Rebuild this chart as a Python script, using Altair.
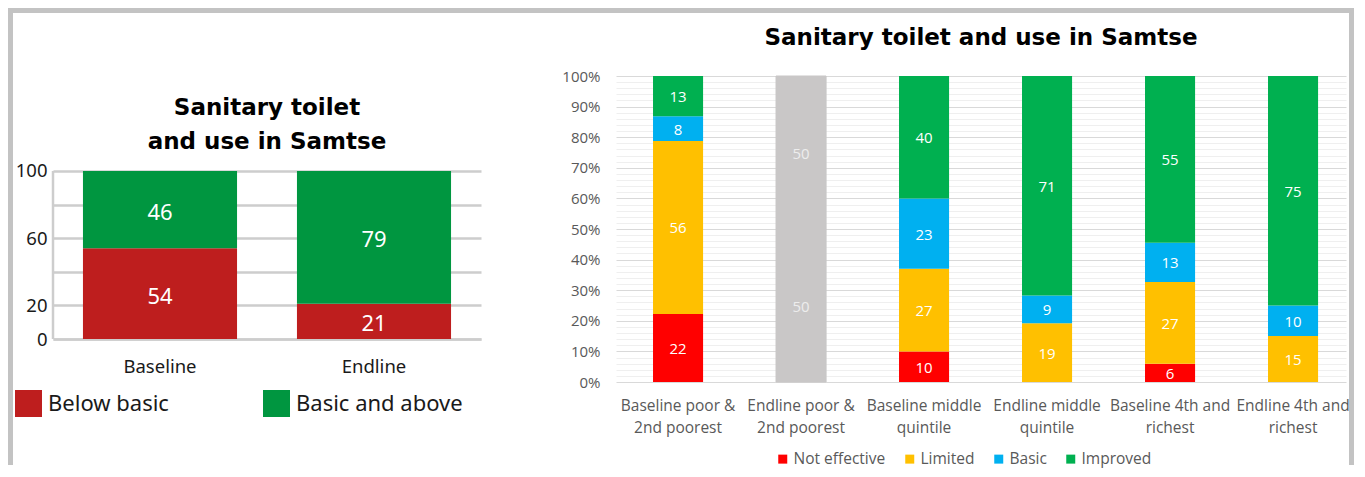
import altair as alt
import pandas as pd

# ---------------- Left panel data ----------------
periods = ["Baseline", "Endline"]
left_series = ["Below basic", "Basic and above"]
below_basic = [54, 21]
basic_above = [46, 79]
left_colors = ["#BE1E1E", "#009640"]
left_grid_values = [0, 20, 40, 60, 80, 100]
left_label_values = [0, 20, 60, 100]

# ---------------- Right panel data ----------------
cat_line1 = ["Baseline poor &", "Endline poor &", "Baseline middle",
             "Endline middle", "Baseline 4th and", "Endline 4th and"]
cat_line2 = ["2nd poorest", "2nd poorest", "quintile", "quintile", "richest", "richest"]
categories = [a + " " + b for a, b in zip(cat_line1, cat_line2)]
right_series = ["Not effective", "Limited", "Basic", "Improved"]
not_effective = [22, None, 10, None, 6, None]
limited = [56, None, 27, 19, 27, 15]
basic = [8, None, 23, 9, 13, 10]
improved = [13, None, 40, 71, 55, 75]
grey_category = "Endline poor & 2nd poorest"
grey_segments = [50, 50]
grey_series = "No data"
right_colors = ["#FF0000", "#FFC000", "#00B0F0", "#00B050", "#C9C7C7"]
right_tick_values = [i / 10 for i in range(11)]
right_minor_values = [i / 50 for i in range(51) if i % 5 != 0]

F1 = "Noto Sans"
FT = "DejaVu Sans"
F2 = "Open Sans"
GRID = "#CDCDCD"
FRAME = "#C3C3C3"

# ---------------- Build tables ----------------
left_rows = []
for i, p in enumerate(periods):
    for k, (s, vals) in enumerate(zip(left_series, [below_basic, basic_above])):
        left_rows.append({"period": p, "series": s, "value": vals[i], "order": k})
left_df = pd.DataFrame(left_rows)

right_rows = []
for i, c in enumerate(categories):
    for k, (s, vals) in enumerate(zip(right_series, [not_effective, limited, basic, improved])):
        if vals[i] is not None:
            right_rows.append({"category": c, "series": s, "value": vals[i], "order": k})
for k, v in enumerate(grey_segments):
    right_rows.append({"category": grey_category, "series": grey_series, "value": v, "order": k})
right_df = pd.DataFrame(right_rows)

# ---------------- Left chart ----------------
LW, LH = 428, 263
left_base = alt.Chart(left_df).transform_stack(
    stack="value", groupby=["period"], as_=["y0", "y1"],
    sort=[alt.SortField("order", order="ascending")]
).transform_calculate(mid="(datum.y0 + datum.y1) / 2")

lx = alt.X("period:N", sort=periods, title=None,
           scale=alt.Scale(paddingInner=0.28, paddingOuter=0.14),
           axis=alt.Axis(labelAngle=0, labelFont=F1, labelFontSize=18.5, labelColor="#1A1A1A",
                         labelPadding=18, ticks=False, domain=True, domainColor=GRID,
                         domainWidth=2.5, grid=False, labelBaseline="top"))
lscale = alt.Scale(domain=[0, 156.5], nice=False)

left_bars = left_base.mark_bar().encode(
    x=lx,
    y=alt.Y("y0:Q", scale=lscale, title=None,
            axis=alt.Axis(values=left_grid_values, grid=True, gridColor=GRID, gridWidth=2.5,
                          ticks=False, domain=False, labelFont=F1, labelFontSize=18.5,
                          labelColor="#1A1A1A", labelPadding=6,
                          labelExpr="datum.value == 40 || datum.value == 80 ? '' : datum.label")),
    y2="y1:Q",
    color=alt.Color("series:N", scale=alt.Scale(domain=left_series, range=left_colors),
                    legend=alt.Legend(title=None, orient="none", legendX=-38, legendY=314,
                                      direction="horizontal", columns=2, columnPadding=94,
                                      symbolType="square", symbolSize=729, symbolStrokeWidth=0,
                                      labelFont=F1, labelFontSize=22, labelColor="#1A1A1A",
                                      labelOffset=6, labelLimit=400, padding=0)),
)
left_text = left_base.mark_text(font=F1, fontSize=22, color="white", dy=3).encode(
    x=lx,
    y=alt.Y("mid:Q", scale=lscale),
    text="value:Q",
)
one_row = alt.Data(values=[{"k": 1}])
left_axisline = alt.Chart(one_row).mark_rule(color=GRID, strokeWidth=2.5).encode(
    x=alt.value(0), y=alt.datum(0, scale=lscale), y2=alt.datum(100)
)

# decorative grey frame around the whole figure (pixel offsets from the left plot origin)
frame_top = alt.Chart(one_row).mark_rect(color=FRAME).encode(
    x=alt.value(-45), x2=alt.value(1301), y=alt.value(-68), y2=alt.value(-63))
frame_left = alt.Chart(one_row).mark_rect(color=FRAME).encode(
    x=alt.value(-45), x2=alt.value(-40), y=alt.value(-68), y2=alt.value(389))
frame_right = alt.Chart(one_row).mark_rect(color=FRAME).encode(
    x=alt.value(1296), x2=alt.value(1301), y=alt.value(-68), y2=alt.value(389))

left = alt.layer(left_bars, left_axisline, left_text, frame_top, frame_left, frame_right).properties(
    width=LW, height=LH,
    title=alt.TitleParams(["Sanitary toilet", "and use in Samtse"], font=FT, fontSize=23,
                          fontWeight="bold", color="black", anchor="middle", frame="group",
                          offset=-146, lineHeight=34),
)

# ---------------- Right chart ----------------
RW, RH = 730, 306


def two_line_expr(cats, l1, l2):
    expr = "datum.label"
    for c, a, b in reversed(list(zip(cats, l1, l2))):
        expr = f"datum.label == '{c}' ? ['{a}', '{b}'] : ({expr})"
    return expr


right_base = alt.Chart(right_df).transform_stack(
    stack="value", groupby=["category"], as_=["y0", "y1"], offset="normalize",
    sort=[alt.SortField("order", order="ascending")]
).transform_calculate(mid="(datum.y0 + datum.y1) / 2")

rx = alt.X("category:N", sort=categories, title=None,
           scale=alt.Scale(paddingInner=0.593, paddingOuter=0.264, align=0.57),
           axis=alt.Axis(labelExpr=two_line_expr(categories, cat_line1, cat_line2),
                         labelAngle=0, labelFont=F2, labelFontSize=15.5, labelColor="#595959",
                         labelLineHeight=22, labelPadding=16, labelBaseline="top",
                         ticks=False, domain=False, grid=False))
rscale = alt.Scale(domain=[0, 1], nice=False)

is_grey = alt.datum.series == grey_series
right_bars = right_base.mark_bar(stroke="#C9C7C7").encode(
    x=rx,
    y=alt.Y("y0:Q", scale=rscale, title=None,
            axis=alt.Axis(values=right_tick_values, format=".0%", grid=True, gridColor="#D9D9D9",
                          gridWidth=1, ticks=False, domain=False, labelFont=F2, labelFontSize=15,
                          labelColor="#595959", labelPadding=16)),
    y2="y1:Q",
    color=alt.Color("series:N", scale=alt.Scale(domain=right_series + [grey_series], range=right_colors),
                    legend=alt.Legend(title=None, values=right_series, orient="none", legendX=159,
                                      legendY=375, direction="horizontal", symbolType="square",
                                      symbolSize=81, symbolStrokeWidth=0, labelFont=F2,
                                      labelFontSize=15.5, labelColor="#595959", labelOffset=3,
                                      columnPadding=16, padding=0)),
    strokeWidth=alt.condition(is_grey, alt.value(1), alt.value(0)),
)
right_text = right_base.mark_text(font=F2, fontSize=15, dy=1).encode(
    x=rx,
    y=alt.Y("mid:Q", scale=rscale, title=None,
            axis=alt.Axis(orient="right", values=right_minor_values, grid=True, gridColor="#EFEFEF",
                          gridWidth=1, labels=False, ticks=False, domain=False)),
    text="value:Q",
    color=alt.condition(is_grey, alt.value("#EDEDED"), alt.value("white")),
)

right = alt.layer(right_bars, right_text).resolve_axis(
    y="independent"
).properties(
    width=RW, height=RH,
    title=alt.TitleParams("Sanitary toilet and use in Samtse", font=FT, fontSize=23,
                          fontWeight="bold", color="black", anchor="middle", frame="group",
                          offset=19),
)

chart = alt.hconcat(left, right, spacing=135, bounds="flush").resolve_scale(
    color="independent", x="independent", y="independent"
).resolve_legend(color="independent").properties(padding=0).configure_view(stroke=None)

chart.save("out.html", embed_options={"renderer": "svg", "actions": False})
